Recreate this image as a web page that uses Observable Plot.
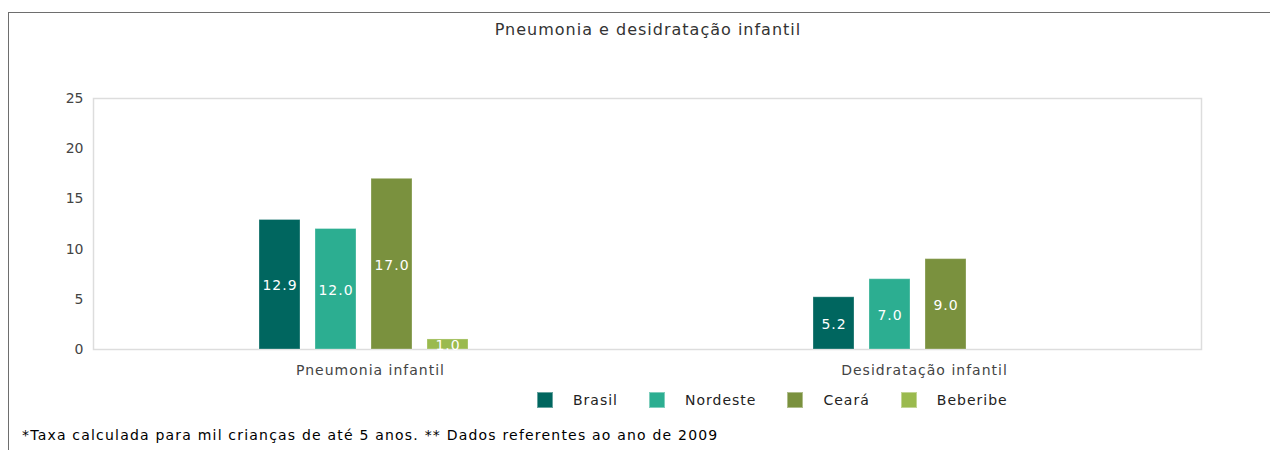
<!DOCTYPE html>
<html><head><meta charset="utf-8">
<script src="https://cdn.jsdelivr.net/npm/d3@7"></script>
<script src="https://cdn.jsdelivr.net/npm/@observablehq/plot@0.6"></script>
<style>
body{margin:0;background:#fff;font-family:"DejaVu Sans",sans-serif;}
#box{position:absolute;left:8px;top:12px;width:1262px;height:438px;border-left:1px solid #6e6e6e;border-top:1px solid #6e6e6e;}
#title{position:absolute;left:0;top:21px;width:1296px;text-align:center;font-size:16px;line-height:18px;color:#333;letter-spacing:1px;}
.layer{position:absolute;left:0;top:60px;}
#chart svg text{letter-spacing:1px;}
#chart svg g[aria-label^="y-axis"] text{letter-spacing:0;}
#legend{position:absolute;left:537px;top:392px;display:flex;align-items:center;font-size:14px;color:#222;letter-spacing:1px;}
#legend .item{display:flex;align-items:center;margin-right:31px;}
#legend .sw{width:14px;height:14px;border:1px solid rgba(255,255,255,0.4);margin-right:20px;}
#foot{position:absolute;left:22px;top:426px;font-size:14px;line-height:18px;color:#000;letter-spacing:1.2px;}
</style></head>
<body>
<div id="box"></div>
<div id="title">Pneumonia e desidratação infantil</div>
<div id="frameLayer" class="layer"></div>
<div id="chart" class="layer"></div>
<div id="legend"></div>
<div id="foot">*Taxa calculada para mil crianças de até 5 anos. ** Dados referentes ao ano de 2009</div>
<script>
const categories = ["Pneumonia infantil", "Desidratação infantil"];
const series = ["Brasil", "Nordeste", "Ceará", "Beberibe"];
const colors = ["#00665f", "#2cae91", "#7a913e", "#9aba4e"];
const pneumonia = [12.9, 12.0, 17.0, 1.0];
const desidratacao = [5.2, 7.0, 9.0, null];
const yTicks = [0, 5, 10, 15, 20, 25];

const rows = [];
[pneumonia, desidratacao].forEach((vals, ci) => {
  vals.forEach((v, si) => {
    if (v != null) rows.push({category: categories[ci], series: series[si], value: v});
  });
});

const W = 1270, H = 330, ML = 93, MR = 69, MT = 38, MB = 41;

const frame = Plot.plot({
  width: W, height: H, marginLeft: ML, marginRight: MR, marginTop: MT, marginBottom: MB,
  style: {background: "transparent"},
  x: {domain: [0, 1], axis: null},
  y: {domain: [0, 25], axis: null},
  marks: [Plot.frame({stroke: "#dddddd", strokeWidth: 1.5})]
});
document.getElementById("frameLayer").append(frame);

const chart = Plot.plot({
  width: W, height: H, marginLeft: ML, marginRight: MR, marginTop: MT, marginBottom: MB,
  style: {background: "transparent", fontFamily: "DejaVu Sans", fontSize: "14px", color: "#444"},
  fx: {domain: categories, padding: 0, label: null, axis: "bottom", tickSize: 0, tickPadding: 16},
  x: {domain: series, axis: null, paddingInner: 0.26, paddingOuter: 2.99, align: 0.482},
  y: {domain: [0, 25], ticks: yTicks, tickSize: 0, tickPadding: 10, label: null},
  color: {domain: series, range: colors},
  marks: [
    Plot.barY(rows, {fx: "category", x: "series", y: "value", fill: "series", stroke: "white", strokeOpacity: 0.3}),
    Plot.text(rows, {fx: "category", x: "series", y: d => d.value / 2, text: d => d.value.toFixed(1), fill: "white", fontSize: 14, dy: 1})
  ]
});
document.getElementById("chart").append(chart);

const legend = document.getElementById("legend");
series.forEach((s, i) => {
  const item = document.createElement("div");
  item.className = "item";
  const sw = document.createElement("div");
  sw.className = "sw";
  sw.style.background = colors[i];
  const lab = document.createElement("span");
  lab.textContent = s;
  item.append(sw, lab);
  legend.append(item);
});
</script>
</body></html>
